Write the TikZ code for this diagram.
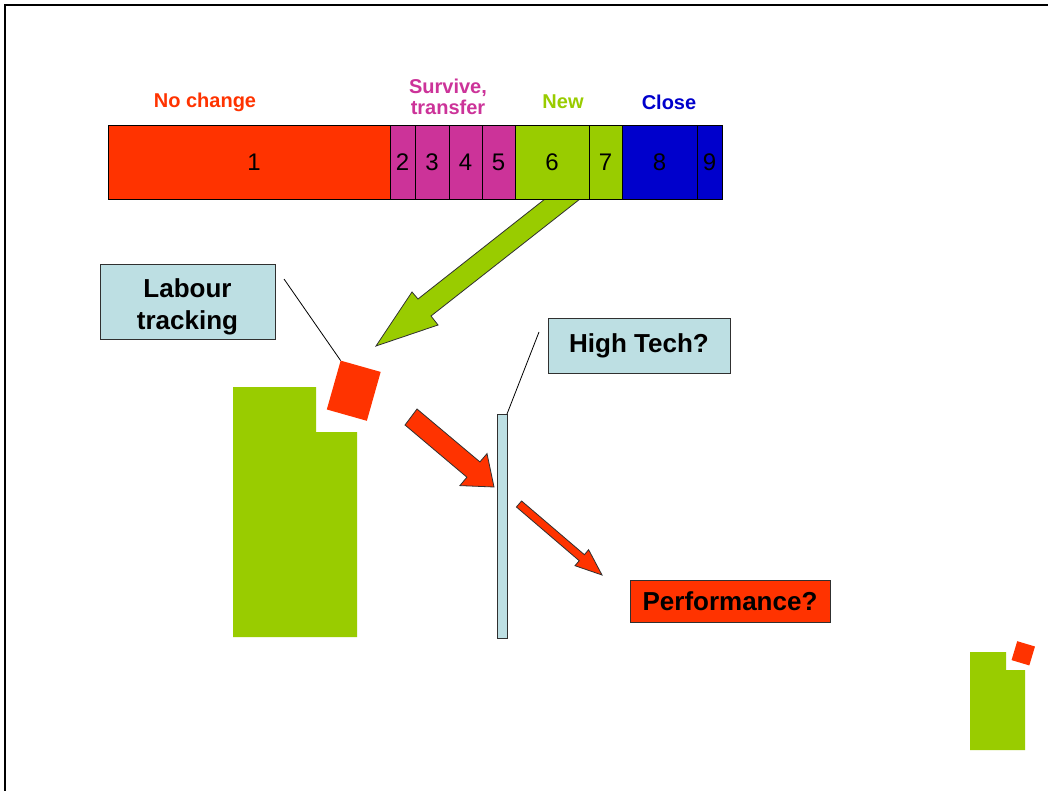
\documentclass[tikz,border=0pt]{standalone}
\usepackage{fontspec}
\setmainfont{Liberation Sans}
\definecolor{cRed}{HTML}{FF3300}
\definecolor{cMag}{HTML}{CC3399}
\definecolor{cGreen}{HTML}{99CC00}
\definecolor{cBlue}{HTML}{0000CC}
\definecolor{cLight}{HTML}{BDDFE3}
\definecolor{cEdge}{HTML}{303030}
\begin{document}
\begin{tikzpicture}[x=0.75pt,y=-0.75pt,
  seg/.style={draw=black, line width=0.6pt, minimum height=55.5pt, inner sep=0pt, outer sep=0pt,
    font=\fontsize{18}{20}\selectfont},
  grouplabel/.style={font=\bfseries\fontsize{15}{16}\selectfont, align=center, inner sep=0pt},
  boxfont/.style={font=\bfseries\fontsize{19.5}{24}\selectfont, align=center, inner sep=0pt},
  callbox/.style={draw=cEdge, line width=0.75pt, fill=cLight, inner sep=0pt, outer sep=0pt, boxfont},
  blockarrow/.style={draw=cEdge, line width=0.6pt, line join=miter},
  leader/.style={draw=black, line width=0.6pt}]
\useasboundingbox (0,0) rectangle (1048,791);
\fill[white] (0,0) rectangle (1048,791);

% frame along the top and left edges
\coordinate (frA) at (5,791);
\coordinate (frB) at (5,5);
\coordinate (frC) at (1048,5);
\draw[line width=1.5pt] (frA) -- (frB) -- (frC);

% large green arrow leaving the "New" block
\filldraw[blockarrow, fill=cGreen] (376,346) -- (412,292) -- (418,299) -- (545,199) -- (580,199)
  -- (431,316) -- (438,325) -- cycle;

% the bar of groups
\node[seg, fill=cRed,   minimum width=211.5pt] (s1) at (249,162)   {\hspace*{7.5pt}1};
\node[seg, fill=cMag,   minimum width=18.75pt] (s2) at (402.5,162) {2};
\node[seg, fill=cMag,   minimum width=25.5pt]  (s3) at (432,162)   {3};
\node[seg, fill=cMag,   minimum width=24.75pt] (s4) at (465.5,162) {4};
\node[seg, fill=cMag,   minimum width=24.75pt] (s5) at (498.5,162) {5};
\node[seg, fill=cGreen, minimum width=55.5pt]  (s6) at (552,162)   {6};
\node[seg, fill=cGreen, minimum width=24.75pt] (s7) at (605.5,162) {7};
\node[seg, fill=cBlue,  minimum width=56.25pt] (s8) at (659.5,162) {8};
\node[seg, fill=cBlue,  minimum width=18.75pt] (s9) at (709.5,162) {9};

% group labels
\node[grouplabel, text=cRed]   (lNo)    at (205,102) {No change};
\node[grouplabel, text=cMag]   (lSurv)  at (448,97)  {Survive,\\transfer};
\node[grouplabel, text=cGreen] (lNew)   at (563,102) {New};
\node[grouplabel, text=cBlue]  (lClose) at (669,102) {Close};

% firm shape and tracked worker
\fill[cGreen] (233,387) -- (316,387) -- (316,432) -- (357,432) -- (357,637) -- (233,637) -- cycle;
\node[fill=cRed, rotate=-15.8, minimum width=31.2pt, minimum height=38.1pt, inner sep=0pt, outer sep=0pt]
  (redsq) at (353.75,390.7) {};

% callouts
\node[callbox, minimum width=131.25pt, minimum height=55.5pt] (labour) at (187.5,302) {};
\node[boxfont] (labourText) at (187.5,307) {Labour\\tracking};
\coordinate (labourTail) at (284,279);
\draw[leader] (labourTail) -- (redsq.north west);

\node[fill=cLight, draw=cEdge, line width=0.6pt, minimum width=7.5pt, minimum height=168pt,
  inner sep=0pt, outer sep=0pt] (hbar) at (502,526) {};
\node[callbox, minimum width=136.5pt, minimum height=41.25pt] (hightech) at (639,345.5) {High Tech?};
\coordinate (htTail) at (539,332);
\draw[leader] (htTail) -- (hbar.north east);

\node[callbox, fill=cRed, minimum width=150pt, minimum height=31.5pt] (perf) at (730,601) {Performance?};

% red arrows
\filldraw[blockarrow, fill=cRed] (417,409) -- (479.9,461.9) -- (487,453.6) -- (494,487)
  -- (459.9,485.6) -- (466.9,477.2) -- (405,425) -- cycle;
\filldraw[blockarrow, fill=cRed] (521.6,501) -- (584.4,554.7) -- (588.6,549.7) -- (602,575)
  -- (575,565.7) -- (579.2,560.7) -- (516.4,507) -- cycle;

% small emblem in the corner
\fill[cGreen] (970,652) -- (1006,652) -- (1006,670) -- (1025,670) -- (1025,750) -- (970,750) -- cycle;
\node[fill=cRed, rotate=-16.7, minimum width=13.9pt, minimum height=14.8pt, inner sep=0pt, outer sep=0pt]
  (emsq) at (1023.25,653.3) {};
\end{tikzpicture}
\end{document}
